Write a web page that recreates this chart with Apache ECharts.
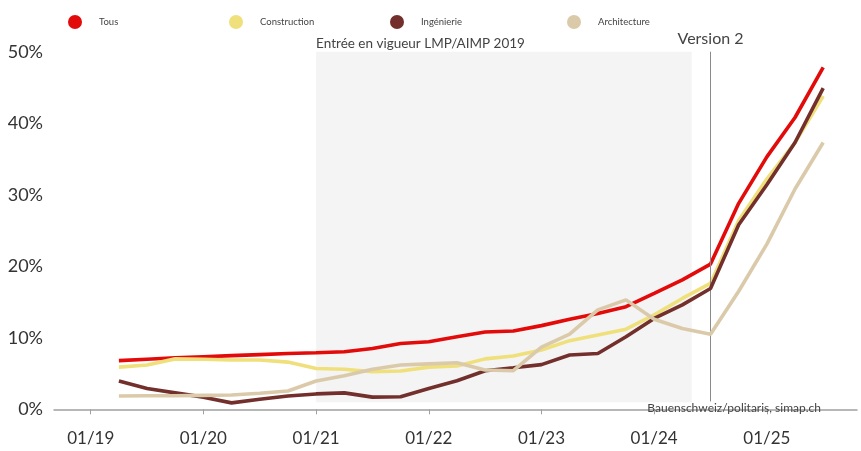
<!DOCTYPE html>
<html>
<head>
<meta charset="utf-8">
<script src="https://cdn.jsdelivr.net/npm/echarts@6/dist/echarts.min.js"></script>
<style>
html,body{margin:0;padding:0;background:#fff;}
#chart{width:861px;height:451px;}
</style>
</head>
<body>
<div id="chart"></div>
<script>
// Quarterly observation dates (YYYY-MM)
const dates = ["2019-04","2019-07","2019-10","2020-01","2020-04","2020-07","2020-10","2021-01","2021-04","2021-07","2021-10","2022-01","2022-04","2022-07","2022-10","2023-01","2023-04","2023-07","2023-10","2024-01","2024-04","2024-07","2024-10","2025-01","2025-04","2025-07"];
const seriesNames = ["Tous","Construction","Ingénierie","Architecture"];
const tous = [6.8,7.0,7.2,7.35,7.5,7.65,7.8,7.9,8.05,8.5,9.2,9.45,10.15,10.8,10.95,11.7,12.6,13.4,14.35,16.2,18.1,20.3,28.8,35.3,40.8,47.8];
const construction = [5.9,6.2,7.05,7.0,6.9,6.9,6.6,5.7,5.6,5.25,5.35,5.9,6.05,7.05,7.45,8.3,9.6,10.4,11.2,13.2,15.5,17.6,26.4,32.2,37.3,43.8];
const ingenierie = [3.95,2.9,2.3,1.7,0.9,1.4,1.85,2.15,2.3,1.7,1.75,2.9,4.0,5.4,5.8,6.25,7.6,7.8,10.15,12.7,14.6,16.9,25.8,31.4,37.3,44.9];
const architecture = [1.85,1.9,1.9,1.95,2.0,2.25,2.55,3.95,4.7,5.6,6.2,6.35,6.5,5.5,5.4,8.7,10.5,13.9,15.3,12.6,11.3,10.5,16.5,23.1,30.8,37.3];
const yearTicks = ["2019-01","2020-01","2021-01","2022-01","2023-01","2024-01","2025-01"];
const yTickLabels = ["0%","10%","20%","30%","40%","50%"];
const lawPeriod = ["2021-01","2024-05"];   // Entrée en vigueur LMP/AIMP 2019
const version2Date = "2024-07";
const annotations = {law:"Entrée en vigueur LMP/AIMP 2019", version:"Version 2", source:"Bauenschweiz/politaris, simap.ch"};
const colors = ["#e30a0a","#efe07c","#722f2b","#dbcaa9"];

function dec(s){const p=s.split("-");return +p[0]+(+p[1]-1)/12;}
function pairs(vals){return dates.map((d,i)=>[dec(d),vals[i]]);}

const FONT = "Lato, 'Noto Sans', sans-serif";
const chart = echarts.init(document.getElementById('chart'), null, {renderer:'canvas'});
const allVals = [tous,construction,ingenierie,architecture];
const legendCenters = [82,243,404,581];
const legendW = 38;

const series = seriesNames.map((n,i)=>({
  name:n, type:'line', data:pairs(allVals[i]), showSymbol:false, symbol:'circle',
  lineStyle:{width:3.6,color:colors[i]}, itemStyle:{color:colors[i]},
  z: 3+i
}));
series[0].markArea = {
  silent:true,
  itemStyle:{color:'#f4f4f4'},
  label:{show:true, position:[0,-15], align:'left', formatter:annotations.law, fontFamily:FONT, fontSize:13.5, color:'#444'},
  data:[[{coord:[dec(lawPeriod[0]),1]},{coord:[dec(lawPeriod[1]),50]}]]
};
series[0].markLine = {
  silent:true, symbol:['none','none'],
  lineStyle:{color:'#8a8a8a',width:1,type:'solid'},
  label:{show:true, position:'end', formatter:annotations.version, fontFamily:FONT, fontSize:16, color:'#444', distance:5},
  data:[[{coord:[dec(version2Date),1.1]},{coord:[dec(version2Date),50]}]]
};

chart.setOption({
  animation:false,
  backgroundColor:'#fff',
  color:colors,
  legend: seriesNames.map((n,i)=>({
    data:[{name:n, icon:'circle'}], left:legendCenters[i]-legendW/2, top:10,
    itemWidth:legendW, itemHeight:14, itemGap:0,
    textStyle:{fontFamily:FONT,fontSize:9.5,color:'#444'}, selectedMode:false
  })),
  grid:{left:54,right:4,top:51.7,bottom:41.7,containLabel:false},
  xAxis:{
    type:'value', min:2018.674, max:2025.80, offset:11.5,
    splitLine:{show:false},
    axisLine:{show:true,lineStyle:{color:'#a0a0a0',width:1.5}},
    axisTick:{show:true,length:5,lineStyle:{color:'#a0a0a0',width:1},customValues:yearTicks.map(dec)},
    axisLabel:{customValues:yearTicks.map(dec), margin:9, fontFamily:FONT, fontSize:17, color:'#333',
      formatter:v=>{const y=Math.round(v);return "01/"+String(y).slice(2);}}
  },
  yAxis:{
    type:'value', min:0, max:50, interval:10,
    splitLine:{show:false}, axisLine:{show:false}, axisTick:{show:false},
    axisLabel:{margin:11, fontFamily:FONT, fontSize:18, color:'#333',
      formatter:v=>yTickLabels[Math.round(v/10)]}
  },
  graphic:[{type:'text', right:40, top:402, z:100, style:{text:annotations.source, font:"12px "+FONT, fill:'#444'}}],
  series:series
});
</script>
</body>
</html>
